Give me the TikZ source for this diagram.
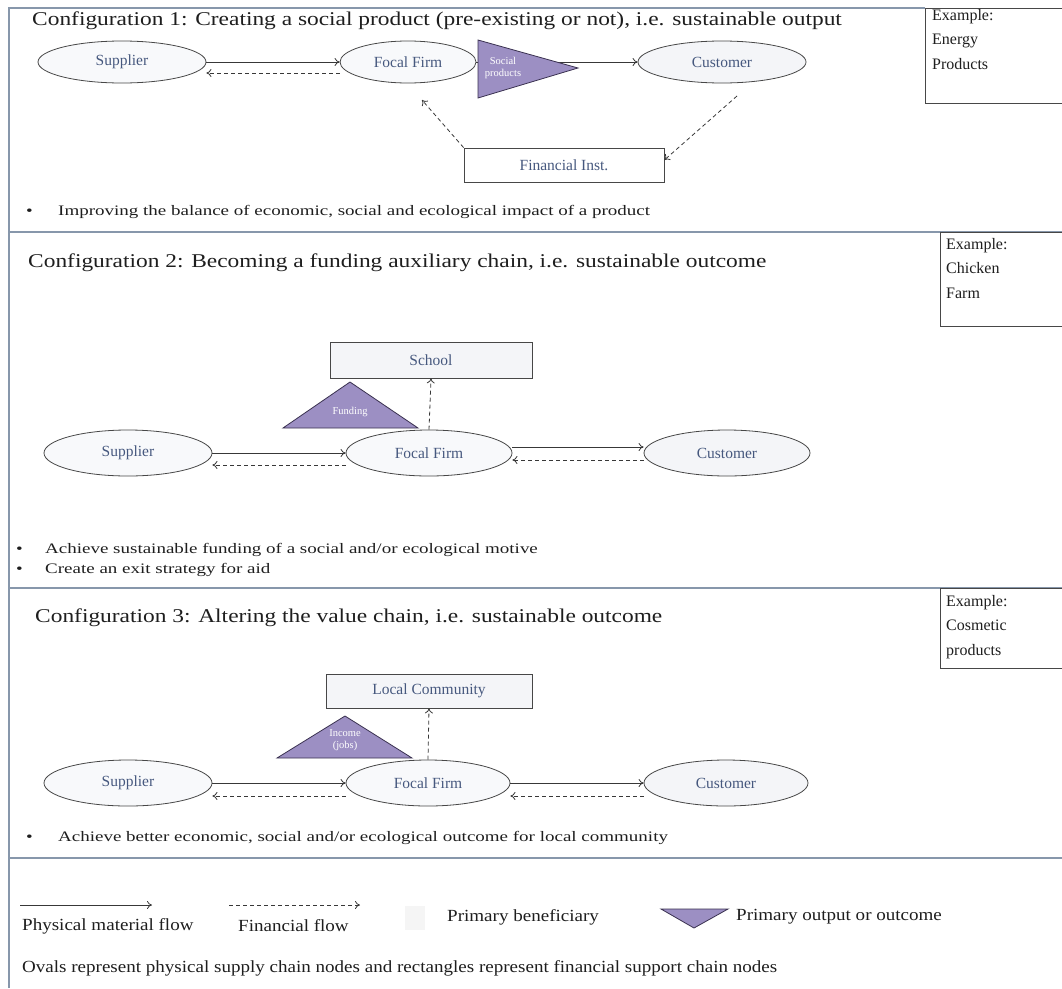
\documentclass[tikz,border=0pt]{standalone}
\usepackage{fontspec}
\setmainfont{Liberation Serif}
\newfontfamily\widetitle{Liberation Serif}[FakeStretch=1.2]
\newfontfamily\widebullet{Liberation Serif}[FakeStretch=1.31]
\newfontfamily\widelegend{Liberation Serif}[FakeStretch=1.12]
\usetikzlibrary{shapes.geometric,arrows.meta}
\definecolor{framec}{HTML}{8797AB}
\definecolor{textc}{HTML}{1E1E1E}
\definecolor{nodetext}{HTML}{46587E}
\definecolor{ovalfill}{HTML}{F8F9FB}
\definecolor{benefill}{HTML}{F4F5F8}
\definecolor{trifill}{HTML}{9C8FC3}
\definecolor{tridraw}{HTML}{3A3150}
\begin{document}
\begin{tikzpicture}[x=1pt,y=-1pt,
  oval/.style={ellipse,draw=black!72,line width=0.8pt,fill=ovalfill,inner sep=0pt,
    text=nodetext,font=\fontsize{15.5}{18}\selectfont},
  finbox/.style={rectangle,draw=black!72,line width=0.8pt,fill=white,inner sep=0pt,
    text=nodetext,font=\fontsize{15.5}{18}\selectfont},
  flow/.style={draw=black!78,line width=0.8pt,-{To[length=5pt,width=8pt]}},
  fin/.style={flow,dash pattern=on 4pt off 3pt},
  tri/.style={fill=trifill,draw=tridraw,line width=0.8pt},
  trilabel/.style={text=white,font=\fontsize{10.5}{12}\selectfont,align=center,inner sep=0pt},
  title/.style={anchor=west,inner sep=0pt,text=textc,font=\widetitle\fontsize{19.5}{22}\selectfont},
  bullet/.style={anchor=west,inner sep=0pt,text=textc,font=\widebullet\fontsize{14.5}{17}\selectfont},
  legend/.style={anchor=west,inner sep=0pt,text=textc,font=\widelegend\fontsize{17}{20}\selectfont},
  exbox/.style={draw=black!72,line width=0.9pt,fill=white},
  extext/.style={anchor=north west,inner sep=0pt,align=left,text=textc,
    font=\fontsize{16}{24.5}\selectfont},
  divider/.style={draw=framec,line width=1.3pt}
]
\useasboundingbox (0,0) rectangle (1062,988);

% outer frame and section dividers
\draw[divider] (9,988) -- (9,8) -- (925,8);
\draw[divider] (9,232) -- (1062,232);
\draw[divider] (9,588) -- (1062,588);
\draw[divider] (9,858) -- (1062,858);

% ---------------- Configuration 1 ----------------
\node[title] (t1) at (32,21) {Configuration 1: Creating a social product (pre-existing or not), i.e. sustainable output};
\draw[exbox] (925,8) rectangle (1062,103);
\node[extext] (ex1) at (932,9) {Example:\\Energy\\Products};

\node[oval,minimum width=168pt,minimum height=42pt] (sup1) at (122,62) {Supplier};
\node[oval,minimum width=136pt,minimum height=42pt] (ff1) at (408,62) {Focal Firm};
\node[oval,fill=benefill,minimum width=168pt,minimum height=42pt] (cu1) at (722,62) {Customer};
\node[finbox,minimum width=200pt,minimum height=34pt] (fi1) at (564,165) {Financial Inst.};

\draw[flow] (sup1.east) -- (ff1.west);
\draw[fin] ([yshift=-11pt]ff1.west) -- ([yshift=-11pt]sup1.east);
\draw[flow] (ff1.east) -- (cu1.west);
\draw[tri] (478,40) -- (578,68) -- (478,98) -- cycle;
\node[trilabel] (so1) at (503,68) {Social\\products};
\coordinate (cuout) at (737,96);
\coordinate (ffin) at (422,100);
\draw[fin] (cuout) -- ([yshift=5pt]fi1.east);
\draw[fin] (fi1.north west) -- (ffin);

\node[bullet] (b1) at (26,212) {\textbullet};
\node[bullet] (l1) at (58,212) {Improving the balance of economic, social and ecological impact of a product};

% ---------------- Configuration 2 ----------------
\node[title] (t2) at (28,263) {Configuration 2: Becoming a funding auxiliary chain, i.e. sustainable outcome};
\draw[exbox] (940,232) rectangle (1062,326);
\node[extext] (ex2) at (946,238) {Example:\\Chicken\\Farm};

\node[finbox,fill=benefill,minimum width=202pt,minimum height=36pt] (sch) at (431,360) {School};
\node[oval,minimum width=168pt,minimum height=46pt] (sup2) at (128,453) {Supplier};
\node[oval,minimum width=166pt,minimum height=46pt] (ff2) at (429,453) {Focal Firm};
\node[oval,fill=benefill,minimum width=166pt,minimum height=46pt] (cu2) at (727,453) {Customer};

\draw[flow] (sup2.east) -- (ff2.west);
\draw[fin] ([yshift=-12pt]ff2.west) -- ([yshift=-12pt]sup2.east);
\draw[flow] ([yshift=6pt]ff2.east) -- ([yshift=6pt]cu2.west);
\draw[fin] ([yshift=-7pt]cu2.west) -- ([yshift=-7pt]ff2.east);
\draw[fin] (ff2.north) -- (sch.south);
\draw[tri] (283,428) -- (350,382) -- (418,428) -- cycle;
\node[trilabel] (fu2) at (350,412) {Funding};

\node[bullet] (b2a) at (16,550) {\textbullet};
\node[bullet] (l2a) at (45,550) {Achieve sustainable funding of a social and/or ecological motive};
\node[bullet] (b2b) at (16,570) {\textbullet};
\node[bullet] (l2b) at (45,570) {Create an exit strategy for aid};

% ---------------- Configuration 3 ----------------
\node[title] (t3) at (35,618) {Configuration 3: Altering the value chain, i.e. sustainable outcome};
\draw[exbox] (940,588) rectangle (1062,668);
\node[extext] (ex3) at (946,595) {Example:\\Cosmetic\\products};

\node[finbox,fill=benefill,minimum width=206pt,minimum height=34pt] (lc) at (429,691) {Local Community};
\node[oval,minimum width=168pt,minimum height=46pt] (sup3) at (128,783) {Supplier};
\node[oval,minimum width=164pt,minimum height=46pt] (ff3) at (428,783) {Focal Firm};
\node[oval,fill=benefill,minimum width=164pt,minimum height=46pt] (cu3) at (726,783) {Customer};

\draw[flow] (sup3.east) -- (ff3.west);
\draw[fin] ([yshift=-13pt]ff3.west) -- ([yshift=-13pt]sup3.east);
\draw[flow] (ff3.east) -- (cu3.west);
\draw[fin] ([yshift=-13pt]cu3.west) -- ([yshift=-13pt]ff3.east);
\draw[fin] (ff3.north) -- (lc.south);
\draw[tri] (277,758) -- (345,716) -- (412,758) -- cycle;
\node[trilabel] (in3) at (345,740) {Income\\(jobs)};

\node[bullet] (b3) at (26,838) {\textbullet};
\node[bullet] (l3) at (58,838) {Achieve better economic, social and/or ecological outcome for local community};

% ---------------- Legend ----------------
\coordinate (pa) at (20,905);
\coordinate (pb) at (152,905);
\draw[flow] (pa) -- (pb);
\node[legend] (lp) at (22,926) {Physical material flow};
\coordinate (fa) at (229,905);
\coordinate (fb) at (360,905);
\draw[fin] (fa) -- (fb);
\node[legend] (lf) at (238,926) {Financial flow};
\fill[black!4] (405,906) rectangle (425,930);
\node[legend] (lb) at (447,917) {Primary beneficiary};
\draw[tri] (661,909) -- (728,909) -- (694,928) -- cycle;
\node[legend] (lo) at (736,917) {Primary output or outcome};
\node[legend] (lov) at (22,968) {Ovals represent physical supply chain nodes and rectangles represent financial support chain nodes};
\end{tikzpicture}
\end{document}
